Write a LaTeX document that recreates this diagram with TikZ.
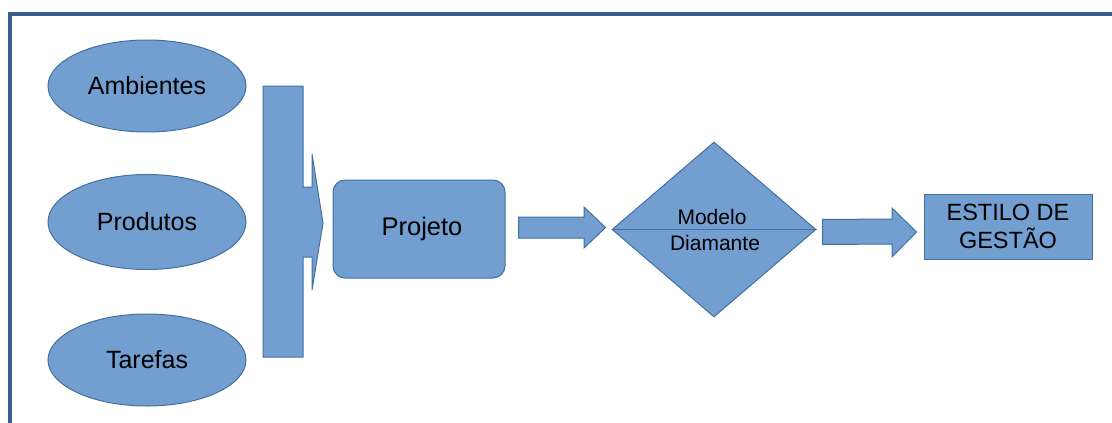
\documentclass[tikz,border=0pt]{standalone}
\usepackage{fontspec}
\setmainfont{Liberation Sans}
\usetikzlibrary{shapes.geometric,calc}
\definecolor{bluefill}{RGB}{114,159,207}
\definecolor{blueline}{RGB}{65,113,160}
\definecolor{framecol}{RGB}{60,95,140}
\begin{document}
\begin{tikzpicture}[x=1pt,y=-1pt,
  bluebody/.style={fill=bluefill,draw=blueline,line width=1pt,line join=miter},
  oval/.style={bluebody,ellipse,minimum width=198pt,minimum height=92pt,inner sep=0pt,
    font=\fontsize{25}{29}\selectfont},
  blockarrow/.style={bluebody},
  label/.style={inner sep=0pt,font=\fontsize{21}{24}\selectfont}]
\useasboundingbox (0,0) rectangle (1112,423);

% open frame: left and top edges
\draw[framecol,line width=4pt] (10,425) -- (10,13.5) -- (1114,13.5);

% inputs
\node[oval] (amb) at (147,86)  {Ambientes};
\node[oval,minimum height=95pt] (prod) at (147,222) {Produtos};
\node[oval] (tar) at (147,360) {Tarefas};

% gathering bar with its arrow towards the project
\draw[blockarrow] (263,86) -- (303,86) -- (303,187) -- (312,187) -- (312,154)
  -- (323,223) -- (312,290) -- (312,257) -- (303,257) -- (303,357) -- (263,357) -- cycle;
\coordinate (bartip) at (323,223);

% project
\node[bluebody,rounded corners=12pt,minimum width=172pt,minimum height=98pt,
  inner sep=0pt,font=\fontsize{25.5}{29}\selectfont] (proj) at (419,229) {\hspace{6pt}Projeto};

% diamond model
\node[bluebody,diamond,minimum width=204pt,minimum height=175pt,inner sep=0pt]
  (diam) at (714,229.5) {};
\draw[blueline,line width=1pt] (diam.west) -- (diam.east);
\node[label] (mod) at (712,217) {Modelo};
\node[label] (dia) at (715,243) {Diamante};

% result
\node[bluebody,rectangle,minimum width=168pt,minimum height=65pt,inner sep=0pt,
  align=center,font=\fontsize{23.5}{28}\selectfont] (est) at (1008,226.5)
  {ESTILO DE\\GESTÃO};

% block arrows between the stages
\draw[blockarrow] ($(proj.east)+(13,-12)$) -- (584,217) -- (584,207)
  -- ($(diam.west)+(-6,-2)$) -- (584,248) -- (584,238) -- ($(proj.east)+(13,9)$) -- cycle;
\draw[blockarrow] ($(diam.east)+(6,-10)$) -- (892,219) -- (892,208)
  -- ($(est.west)+(-7,5.5)$) -- (892,257) -- (892,244) -- ($(diam.east)+(6,15)$) -- cycle;
\end{tikzpicture}
\end{document}
